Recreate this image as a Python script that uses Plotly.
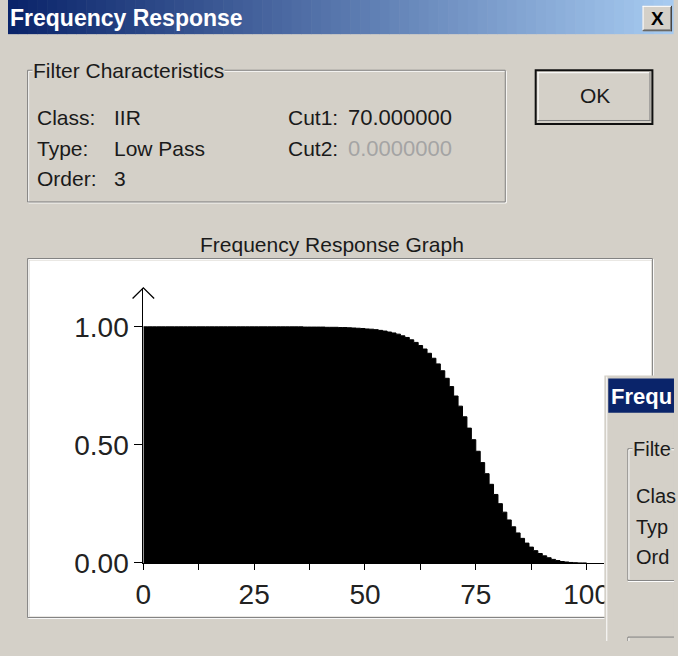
import plotly.graph_objects as go

W, H = 678, 656

# ---------------- data ----------------
freq = list(range(0, 101))
magnitude = [
    1.000, 1.000, 1.000, 1.000, 1.000, 1.000, 1.000, 1.000, 1.000, 1.000,
    1.000, 1.000, 1.000, 1.000, 1.000, 1.000, 1.000, 1.000, 1.000, 1.000,
    1.000, 1.000, 1.000, 1.000, 1.000, 1.000, 1.000, 1.000, 1.000, 1.000,
    1.000, 1.000, 1.000, 1.000, 1.000, 1.000, 0.999, 0.999, 0.999, 0.999,
    0.999, 0.998, 0.998, 0.998, 0.997, 0.997, 0.996, 0.995, 0.994, 0.993,
    0.991, 0.990, 0.988, 0.985, 0.982, 0.978, 0.974, 0.969, 0.962, 0.955,
    0.945, 0.934, 0.921, 0.906, 0.888, 0.867, 0.843, 0.814, 0.782, 0.747,
    0.707, 0.664, 0.619, 0.571, 0.522, 0.473, 0.425, 0.378, 0.333, 0.290,
    0.251, 0.215, 0.182, 0.153, 0.127, 0.104, 0.084, 0.067, 0.052, 0.040,
    0.030, 0.022, 0.015, 0.010, 0.006, 0.004, 0.002, 0.001, 0.000, 0.000,
    0.000,
]
x_tick_vals = [0, 25, 50, 75, 100]
x_tick_text = ["0", "25", "50", "75", "100"]
x_minor_vals = [12.5, 37.5, 62.5, 87.5]
y_tick_vals = [0.0, 0.5, 1.0]
y_tick_text = ["0.00", "0.50", "1.00"]

dialog_title = "Frequency Response"
group_title = "Filter Characteristics"
graph_title = "Frequency Response Graph"
field_labels = ["Class:", "Type:", "Order:"]
field_values = ["IIR", "Low Pass", "3"]
cut_labels = ["Cut1:", "Cut2:"]
cut_values = ["70.000000", "0.0000000"]
ok_text = "OK"
# second (overlapping) dialog, only its left edge is visible
overlay_title = "Frequ"
overlay_group = "Filte"
overlay_labels = ["Clas", "Typ", "Ord"]

# ---------------- styling helpers ----------------
FONT = "Liberation Sans, Arial, sans-serif"
FACE = "#d4d0c8"
DARK = "#808080"
TXT = "#1a1a1a"


def fx(x):
    return x / W


def fy(y):
    return 1 - y / H


shapes = []
annotations = []


def rect(x0, y0, x1, y1, fill=None, line=None, lw=1, layer="below"):
    shapes.append(dict(
        type="rect", xref="paper", yref="paper",
        x0=fx(x0), x1=fx(x1), y0=fy(y1), y1=fy(y0),
        fillcolor=fill if fill else "rgba(0,0,0,0)",
        line=dict(color=line if line else "rgba(0,0,0,0)", width=lw if line else 0),
        layer=layer,
    ))


def seg(x0, y0, x1, y1, color, lw=1, layer="below"):
    shapes.append(dict(
        type="line", xref="paper", yref="paper",
        x0=fx(x0), x1=fx(x1), y0=fy(y0), y1=fy(y1),
        line=dict(color=color, width=lw), layer=layer,
    ))


def txt(s, x, y, size=21, color=TXT, anchor="left", bold=False, bg=None, family=FONT):
    annotations.append(dict(
        text=s, xref="paper", yref="paper", x=fx(x), y=fy(y),
        xanchor=anchor, yanchor="middle", showarrow=False,
        font=dict(family=family, size=size, color=color,
                  weight="bold" if bold else "normal"),
        bgcolor=bg if bg else "rgba(0,0,0,0)", borderpad=0,
    ))


def etched(x0, y0, x1, y1, layer="below"):
    rect(x0 + 1, y0 + 1, x1 + 1, y1 + 1, line="#ffffff", layer=layer)
    rect(x0, y0, x1, y1, line=DARK, layer=layer)


# ---------------- main dialog ----------------
# title bar gradient
c0 = (10, 36, 106)
c1 = (166, 202, 240)
n = 68
for i in range(n):
    t = i / (n - 1)
    col = "rgb(%d,%d,%d)" % tuple(int(round(a + (b - a) * t)) for a, b in zip(c0, c1))
    rect(i * W / n, 0, (i + 1) * W / n + 0.6, 35, fill=col)
txt(dialog_title, 1, 18, size=23, color="#ffffff", bold=True)

# close button
rect(647, 6, 677, 32, fill=FACE)
seg(647, 6.5, 677, 6.5, "#ffffff")
seg(647.5, 6, 647.5, 32, "#ffffff")
seg(647, 31.5, 677, 31.5, "#404040")
seg(676.5, 6, 676.5, 32, "#404040")
seg(648, 30.5, 676, 30.5, DARK)
seg(675.5, 7, 675.5, 31, DARK)
txt("X", 662, 19, size=19, color="#000000", anchor="center", bold=True)

# filter characteristics group box
etched(20, 72, 507, 207)
txt(group_title, 24, 72, size=21, bg=FACE)
rows_y = [120, 152, 183]
for lab, val, yy in zip(field_labels, field_values, rows_y):
    txt(lab, 29, yy)
    txt(val, 107, yy)
for i, (lab, val) in enumerate(zip(cut_labels, cut_values)):
    txt(lab, 284, rows_y[i])
    txt(val, 346, rows_y[i], size=22, color=TXT if i == 0 else "#a4a4a4")

# OK button
rect(538, 72, 657, 127, fill=FACE, line="#101010", lw=2)
seg(540, 74.5, 654, 74.5, "#ffffff")
seg(540.5, 74, 540.5, 124, "#ffffff")
seg(540, 123.5, 655, 123.5, DARK)
seg(654.5, 74, 654.5, 124, DARK)
txt(ok_text, 598, 98, size=21, anchor="center")

# graph group
etched(20, 265, 657, 633)
rect(22, 267, 656, 632, fill="#ffffff")
txt(graph_title, 330, 251, size=21, anchor="center")

# y-axis arrow head
shapes.append(dict(
    type="path", xref="paper", yref="paper",
    path="M %f,%f L %f,%f L %f,%f" % (fx(127), fy(306), fx(138), fy(295), fx(149), fy(306)),
    line=dict(color="#000000", width=1.3), layer="above",
))

# ---------------- overlapping second dialog ----------------
OX, OY = 612, 388
rect(608, 385, 679, 657, fill=FACE, layer="above")
seg(610.5, 386, 610.5, 657, "#ffffff", layer="above")
rect(OX, OY, 679, OY + 35, fill="rgb(10,36,106)", layer="above")
txt(overlay_title, OX + 2, OY + 18, size=22, color="#ffffff", bold=True)
# group box edge
seg(OX + 20, OY + 72, 679, OY + 72, DARK, layer="above")
seg(OX + 21, OY + 73, 679, OY + 73, "#ffffff", layer="above")
seg(OX + 20, OY + 72, OX + 20, OY + 207, DARK, layer="above")
seg(OX + 21, OY + 73, OX + 21, OY + 206, "#ffffff", layer="above")
seg(OX + 20, OY + 207, 679, OY + 207, DARK, layer="above")
seg(OX + 20, OY + 208, 679, OY + 208, "#ffffff", layer="above")
txt(overlay_group, OX + 24, OY + 72, size=20, bg=FACE)
for lab, yy in zip(overlay_labels, rows_y):
    txt(lab, OX + 27, OY + yy, size=20)
# top of its graph group
seg(OX + 20, OY + 265, 679, OY + 265, DARK, layer="above")
seg(OX + 20, OY + 265, OX + 20, 657, DARK, layer="above")
seg(OX + 21, OY + 266, OX + 21, 657, "#ffffff", layer="above")

# ---------------- the chart ----------------
fig = go.Figure()
fig.add_trace(go.Scatter(
    x=freq, y=magnitude, mode="lines",
    line=dict(color="#000000", width=1, shape="hv"),
    fill="tozeroy", fillcolor="#000000",
    hoverinfo="skip", showlegend=False,
))

tickfont = dict(family=FONT, size=28, color="#222222")
fig.update_layout(
    width=W, height=H, autosize=False,
    margin=dict(l=0, r=0, t=0, b=0, pad=0),
    paper_bgcolor=FACE, plot_bgcolor="rgba(0,0,0,0)",
    showlegend=False,
    shapes=shapes, annotations=annotations,
    xaxis=dict(
        domain=[138 / W, 608 / W], range=[0, 104],
        showline=True, linecolor="#000000", linewidth=1,
        ticks="outside", ticklen=6, tickwidth=1, tickcolor="#000000",
        tickmode="array", tickvals=x_tick_vals, ticktext=x_tick_text,
        tickfont=tickfont, showgrid=False, zeroline=False,
        minor=dict(ticks="outside", ticklen=6, tickwidth=1, tickcolor="#000000",
                   tickvals=x_minor_vals, showgrid=False),
        fixedrange=True,
    ),
    yaxis=dict(
        domain=[1 - 577 / H, 1 - 295 / H], range=[0, (577 - 295) / 242],
        showline=True, linecolor="#000000", linewidth=1,
        ticks="outside", ticklen=8, tickwidth=1, tickcolor="#000000",
        tickmode="array", tickvals=y_tick_vals, ticktext=y_tick_text,
        tickfont=tickfont, showgrid=False, zeroline=False,
        fixedrange=True,
    ),
)

fig.write_html(
    "out.html",
    config={"displayModeBar": False},
    post_script="document.body.style.margin='0';document.body.style.overflow='hidden';",
)
